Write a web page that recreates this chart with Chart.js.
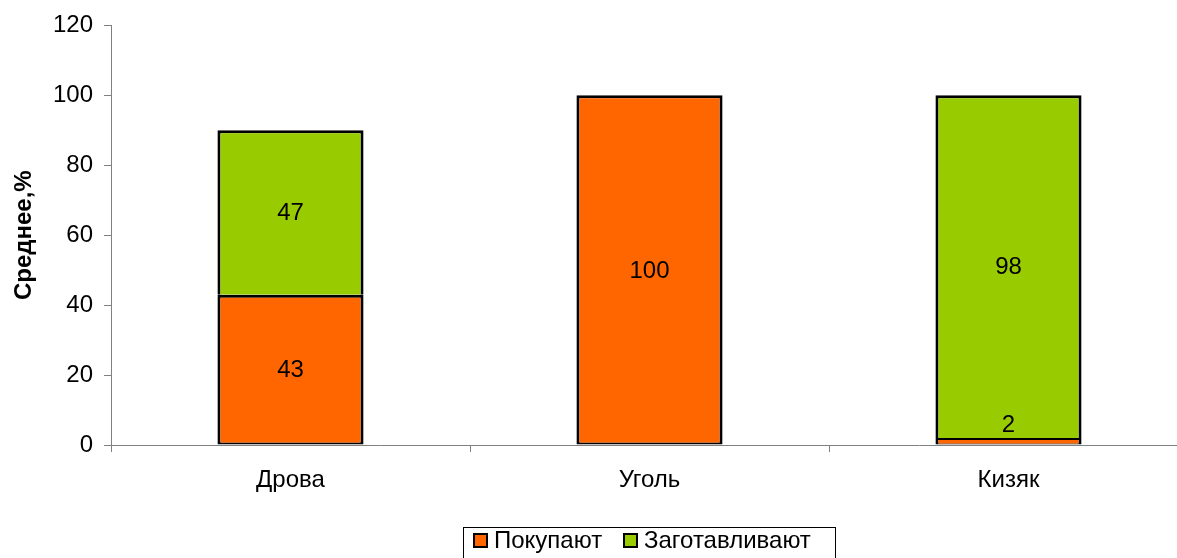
<!DOCTYPE html>
<html><head><meta charset="utf-8">
<script src="https://cdn.jsdelivr.net/npm/chart.js@4/dist/chart.umd.min.js"></script>
<style>html,body{margin:0;padding:0;background:#fff;overflow:hidden;width:1177px;height:558px}canvas{display:block}</style>
</head><body>
<canvas id="c" width="1189" height="558" style="width:1189px;height:558px"></canvas>
<script>
const categories = ['Дрова', 'Уголь', 'Кизяк'];
const seriesNames = ['Покупают', 'Заготавливают'];
const buyValues = [43, 100, 2];
const makeValues = [47, null, 98];
const yTicks = [0, 20, 40, 60, 80, 100, 120];
const colors = ['#FF6600', '#99CC00'];

const FONT = '"Liberation Sans", Arial, sans-serif';

const labelPlugin = {
  id: 'valLabels',
  afterDatasetsDraw(chart) {
    const ctx = chart.ctx;
    ctx.save();
    ctx.font = '24px ' + FONT;
    ctx.fillStyle = '#000';
    ctx.textAlign = 'center';
    ctx.textBaseline = 'middle';
    chart.data.datasets.forEach((ds, i) => {
      const meta = chart.getDatasetMeta(i);
      meta.data.forEach((bar, j) => {
        const v = ds.data[j];
        if (v == null || v === 0) return;
        const h = Math.abs(bar.base - bar.y);
        let y = (bar.y + bar.base) / 2;
        if (h < 24) y = Math.min(bar.y, bar.base) - 14;
        ctx.fillText(String(v), bar.x, y + 1);
      });
    });
    ctx.restore();
  }
};

const legendPlugin = {
  id: 'boxLegend',
  afterDraw(chart) {
    const ctx = chart.ctx;
    ctx.save();
    ctx.strokeStyle = '#000';
    ctx.lineWidth = 1;
    ctx.strokeRect(463.5, 527.5, 372, 40);
    ctx.font = '24px ' + FONT;
    ctx.textBaseline = 'middle';
    ctx.textAlign = 'left';
    const xs = [473, 623];
    chart.data.datasets.forEach((ds, i) => {
      const x = xs[i];
      ctx.fillStyle = '#000';
      ctx.fillRect(x, 533, 15, 15);
      ctx.fillStyle = ds.backgroundColor;
      ctx.fillRect(x + 2, 535, 11, 11);
      ctx.fillStyle = '#000';
      ctx.fillText(ds.label, x + 21, 541);
    });
    ctx.restore();
  }
};

new Chart(document.getElementById('c'), {
  type: 'bar',
  data: {
    labels: categories,
    datasets: [
      {label: seriesNames[0], data: buyValues, backgroundColor: colors[0], borderColor: '#000',
       borderWidth: (c) => (c.raw != null && c.raw < 5) ? {top: 2, left: 3, right: 3, bottom: 1} : {top: 3, left: 3, right: 3, bottom: 2},
       borderSkipped: false},
      {label: seriesNames[1], data: makeValues, backgroundColor: colors[1], borderColor: '#000',
       borderWidth: 3, borderSkipped: 'start'}
    ]
  },
  plugins: [labelPlugin, legendPlugin],
  options: {
    responsive: false,
    animation: false,
    devicePixelRatio: 1,
    layout: {padding: {top: 25, left: 0, right: 1, bottom: 0}},
    datasets: {bar: {categoryPercentage: 1, barPercentage: 0.407, inflateAmount: 0}},
    plugins: {legend: {display: false}, tooltip: {enabled: false}},
    scales: {
      x: {
        stacked: true,
        grid: {offset: true, drawOnChartArea: false, drawTicks: true, tickLength: 7, color: '#808080'},
        border: {color: '#808080', width: 1},
        ticks: {color: '#000', font: {family: FONT, size: 24}, padding: 14, maxRotation: 0},
        afterFit(s) { s.height = 113; }
      },
      y: {
        stacked: true,
        min: 0, max: 120,
        afterBuildTicks(s) { s.ticks = yTicks.map(v => ({value: v})); },
        grid: {drawOnChartArea: false, drawTicks: true, tickLength: 7, color: '#808080'},
        border: {color: '#808080', width: 1},
        ticks: {color: '#000', font: {family: FONT, size: 24}, padding: 11},
        title: {display: true, text: 'Среднее,%', color: '#000', font: {family: FONT, size: 24, weight: 'bold'}, padding: {top: 10, bottom: 0}},
        afterFit(s) { s.width = 111; }
      }
    }
  }
});
</script>
</body></html>
